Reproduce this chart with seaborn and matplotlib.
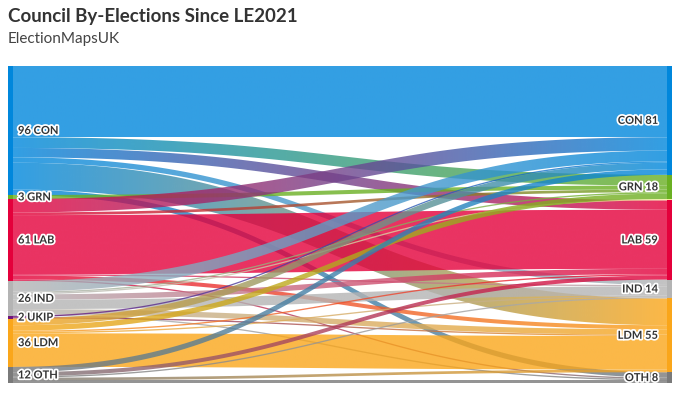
import matplotlib
matplotlib.use("Agg")
import matplotlib.pyplot as plt
import matplotlib.patheffects as pe
from matplotlib.path import Path
from matplotlib.patches import PathPatch
import numpy as np
import seaborn as sns

# nodes (left = seats before, right = seats after)
left_parties = ["CON", "GRN", "LAB", "IND", "UKIP", "LDM", "OTH"]
right_parties = ["CON", "GRN", "", "LAB", "IND", "LDM", "OTH"]

party_colors = {"CON": "#0087dc", "GRN": "#6ab023", "LAB": "#e4003b", "IND": "#b4b4b4",
                "UKIP": "#70147a", "LDM": "#faa61a", "OTH": "#7a7a7a", "": "#f3ee9a"}

# seat flows: rows = left party, columns = right party
flows = np.array([
    [53, 8, 0, 7, 4, 20, 4],   # CON
    [0, 3, 0, 0, 0, 0, 0],     # GRN
    [10, 2, 0, 44, 1, 3, 1],   # LAB
    [8, 1, 1, 4, 7, 4, 1],     # IND
    [1, 0, 0, 0, 0, 1, 0],     # UKIP
    [5, 4, 0, 1, 1, 25, 0],    # LDM
    [4, 0, 0, 3, 1, 2, 2],     # OTH
])

left_totals = flows.sum(axis=1)
right_totals = flows.sum(axis=0)
total = left_totals.sum()

sns.set_theme(style="white")
plt.rcParams['font.family'] = ['Lato', 'DejaVu Sans']

fig = plt.figure(figsize=(6.79, 3.95), dpi=100)
fig.text(8 / 679, 1 - 8 / 395, "Council By-Elections Since LE2021", fontsize=13.5,
         fontweight="bold", color="#333333", va="top", ha="left")
fig.text(8 / 679, 1 - 32 / 395, "ElectionMapsUK", fontsize=11, color="#444444",
         va="top", ha="left")

ax = fig.add_axes([8 / 679, 1 - 383 / 395, 664 / 679, 317 / 395])
bar_w = 0.007
x0, x1 = bar_w, 1 - bar_w

left_top = np.concatenate([[0], np.cumsum(left_totals)[:-1]])
right_top = np.concatenate([[0], np.cumsum(right_totals)[:-1]])
out_off = left_top.astype(float).copy()
in_off = right_top.astype(float).copy()

t = np.linspace(0, 1, 80)
xm = (x0 + x1) / 2
bx = (1 - t) ** 3 * x0 + 3 * (1 - t) ** 2 * t * xm + 3 * (1 - t) * t ** 2 * xm + t ** 3 * x1


def curve(ya, yb):
    s = 3 * t ** 2 - 2 * t ** 3
    return ya + (yb - ya) * s


for i, src in enumerate(left_parties):
    for j, tgt in enumerate(right_parties):
        v = flows[i, j]
        if v == 0:
            continue
        ya0, yb0 = out_off[i], in_off[j]
        ya1, yb1 = ya0 + v, yb0 + v
        out_off[i] += v
        in_off[j] += v
        top = curve(ya0, yb0)
        bot = curve(ya1, yb1)
        verts = np.concatenate([np.column_stack([bx, top]), np.column_stack([bx[::-1], bot[::-1]])])
        path = Path(np.vstack([verts, verts[:1]]), closed=True)
        patch = PathPatch(path, facecolor="none", edgecolor="none")
        ax.add_patch(patch)
        grad = np.array(sns.blend_palette([party_colors[src], party_colors[tgt]], n_colors=64))
        img = np.concatenate([grad, np.full((64, 1), 0.8)], axis=1)[None, :, :]
        im = ax.imshow(img, extent=(x0, x1, total, 0), aspect="auto", interpolation="bilinear")
        im.set_clip_path(patch)

# node bars
ax.barh(left_top + left_totals / 2, bar_w, left=0, height=left_totals,
        color=[party_colors[p] for p in left_parties], linewidth=0)
ax.barh(right_top + right_totals / 2, bar_w, left=1 - bar_w, height=right_totals,
        color=[party_colors[p] for p in right_parties], linewidth=0)

halo = [pe.withStroke(linewidth=2.5, foreground="white")]
for p, top, v in zip(left_parties, left_top, left_totals):
    ax.text(10 / 664, top + v / 2, f"{v} {p}", fontsize=8, fontweight="bold", color="#333333",
            va="center", ha="left", path_effects=halo)
for p, top, v in zip(right_parties, right_top, right_totals):
    if p:
        ax.text(1 - 14 / 664, top + v / 2, f"{p} {v}", fontsize=8, fontweight="bold",
                color="#333333", va="center", ha="right", path_effects=halo)

ax.set_xlim(0, 1)
ax.set_ylim(total, 0)
ax.axis("off")

fig.savefig("out.png", dpi=100)
